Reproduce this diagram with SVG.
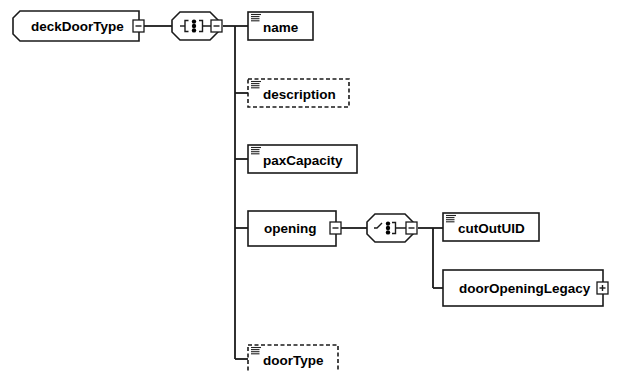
<svg xmlns="http://www.w3.org/2000/svg" width="617" height="372" viewBox="0 0 617 372">
  <defs>
    <style>
      .box { fill: #fff; stroke: #1a1a1a; stroke-width: 1.6; }
      .opt { fill: #fff; stroke: #1a1a1a; stroke-width: 1.6; stroke-dasharray: 4 2.5; }
      .lbl { font-family: "Liberation Sans", Arial, sans-serif; font-size: 13.5px; font-weight: bold; fill: #000; }
      .conn { fill: none; stroke: #1a1a1a; stroke-width: 1.8; }
      .btn { fill: #fff; stroke: #1a1a1a; stroke-width: 1.3; }
      .sym { fill: none; stroke: #1a1a1a; stroke-width: 1.4; }
      .ico { stroke: #222; stroke-width: 1.1; }
    </style>
    <!-- simple-content icon (stacked lines) -->
    <g id="txtIcon">
      <line class="ico" x1="0" y1="0.5" x2="10" y2="0.5"/>
      <line class="ico" x1="0" y1="2.6" x2="8.5" y2="2.6"/>
      <line class="ico" x1="0" y1="4.7" x2="8.5" y2="4.7"/>
      <line class="ico" x1="0" y1="6.8" x2="8.5" y2="6.8"/>
    </g>
    <!-- collapse / expand buttons -->
    <g id="minusBtn">
      <rect class="btn" x="0" y="0" width="11" height="12"/>
      <line class="sym" x1="2.5" y1="6" x2="8.5" y2="6"/>
    </g>
    <g id="plusBtn">
      <rect class="btn" x="0" y="0" width="11" height="12"/>
      <line class="sym" x1="2.5" y1="6" x2="8.5" y2="6"/>
      <line class="sym" x1="5.5" y1="3" x2="5.5" y2="9"/>
    </g>
    <!-- compositor outline (origin at left point, centre line y=0) -->
    <polygon id="compShape" class="box" points="8,-14 38,-14 46,-6 46,6 38,14 8,14 0,6 0,-6"/>
  </defs>

  <!-- connectors -->
  <g id="connectors">
    <line class="conn" x1="144" y1="26" x2="172" y2="26"/>
    <line class="conn" x1="223" y1="26" x2="248" y2="26"/>
    <line class="conn" x1="235" y1="26" x2="235" y2="359"/>
    <line class="conn" x1="235" y1="93" x2="248" y2="93"/>
    <line class="conn" x1="235" y1="159" x2="248" y2="159"/>
    <line class="conn" x1="235" y1="228" x2="248" y2="228"/>
    <line class="conn" x1="235" y1="359" x2="248" y2="359"/>
    <line class="conn" x1="341" y1="228" x2="367" y2="228"/>
    <line class="conn" x1="418" y1="228" x2="443" y2="228"/>
    <line class="conn" x1="433" y1="228" x2="433" y2="288"/>
    <line class="conn" x1="433" y1="288" x2="443" y2="288"/>
  </g>

  <!-- root element -->
  <g id="deckDoorType">
    <polygon class="box" points="20,11 139,11 139,41 20,41 13,34 13,18"/>
    <text class="lbl" x="31" y="30.5">deckDoorType</text>
    <use href="#minusBtn" x="133" y="20"/>
  </g>

  <!-- compositor under deckDoorType -->
  <g id="compositor1">
    <use href="#compShape" x="172" y="26"/>
    <line class="sym" x1="180" y1="26" x2="185" y2="26"/>
    <path class="sym" d="M188.5,20.5 H185 V31.5 H188.5"/>
    <circle cx="194" cy="21.6" r="2.2" fill="#000"/>
    <circle cx="194" cy="26" r="2.2" fill="#000"/>
    <circle cx="194" cy="30.4" r="2.2" fill="#000"/>
    <path class="sym" d="M199,20.5 H202.5 V31.5 H199 M202.5,26 H211"/>
    <use href="#minusBtn" x="211" y="20"/>
  </g>

  <g id="name">
    <rect class="box" x="248" y="12" width="65" height="28"/>
    <use href="#txtIcon" x="251" y="14"/>
    <text class="lbl" x="263" y="31.5">name</text>
  </g>

  <g id="description">
    <rect class="opt" x="248" y="79" width="101" height="28"/>
    <use href="#txtIcon" x="251" y="81"/>
    <text class="lbl" x="263" y="98.5">description</text>
  </g>

  <g id="paxCapacity">
    <rect class="box" x="248" y="145" width="109" height="28"/>
    <use href="#txtIcon" x="251" y="147"/>
    <text class="lbl" x="263" y="164.5">paxCapacity</text>
  </g>

  <g id="opening">
    <rect class="box" x="248" y="211" width="88" height="35"/>
    <text class="lbl" x="264" y="233">opening</text>
    <use href="#minusBtn" x="330" y="222"/>
  </g>

  <!-- compositor under opening -->
  <g id="compositor2">
    <use href="#compShape" x="367" y="228"/>
    <path class="sym" d="M374,228 H377 L382,223"/>
    <circle cx="388" cy="223.6" r="2.2" fill="#000"/>
    <circle cx="388" cy="228" r="2.2" fill="#000"/>
    <circle cx="388" cy="232.4" r="2.2" fill="#000"/>
    <path class="sym" d="M392,222.5 H395.5 V233.5 H392 M395.5,228 H406"/>
    <use href="#minusBtn" x="406" y="222"/>
  </g>

  <g id="cutOutUID">
    <rect class="box" x="443" y="213" width="96" height="28"/>
    <use href="#txtIcon" x="446" y="215"/>
    <text class="lbl" x="458" y="232.5">cutOutUID</text>
  </g>

  <g id="doorOpeningLegacy">
    <rect class="box" x="443" y="270" width="160" height="36"/>
    <text class="lbl" x="459" y="293">doorOpeningLegacy</text>
    <use href="#plusBtn" x="597" y="282"/>
  </g>

  <g id="doorType">
    <rect class="opt" x="248" y="345" width="90" height="30"/>
    <use href="#txtIcon" x="251" y="347"/>
    <text class="lbl" x="263" y="364.5">doorType</text>
  </g>
</svg>
